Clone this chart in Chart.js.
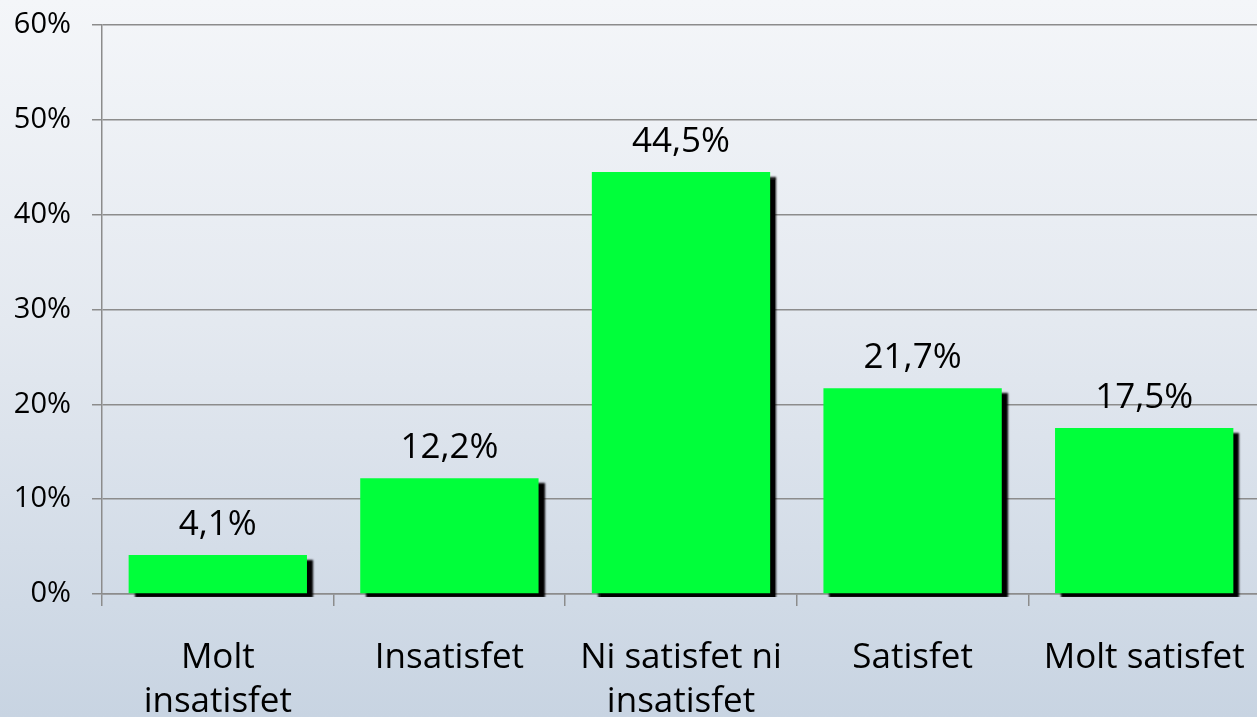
<!DOCTYPE html>
<html>
<head>
<meta charset="utf-8">
<script src="https://cdn.jsdelivr.net/npm/chart.js@4"></script>
<style>
  html, body {
    margin: 0;
    padding: 0;
    width: 1257px;
    height: 717px;
    overflow: hidden;
    background: linear-gradient(to bottom, #f4f6f9 0%, #e4e9f0 45%, #c8d4e2 100%);
  }
  #wrap {
    position: relative;
    width: 1260px;
    height: 717px;
  }
</style>
</head>
<body>
<div id="wrap"><canvas id="satChart"></canvas></div>
<script>
// Satisfaction survey results (percent of answers)
const categories = [
    ['Molt', 'insatisfet'],
    'Insatisfet',
    ['Ni satisfet ni', 'insatisfet'],
    'Satisfet',
    'Molt satisfet'
];
const percentages = [4.1, 12.2, 44.5, 21.7, 17.5];
const yTicks = [0, 10, 20, 30, 40, 50, 60];

const fmt = v => v.toFixed(1).replace('.', ',') + '%';

// Drop shadow behind the bars
const barShadow = {
    id: 'barShadow',
    beforeDatasetsDraw(chart) {
        const ctx = chart.ctx;
        ctx.save();
        ctx.shadowColor = 'rgba(0, 0, 0, 1)';
        ctx.shadowOffsetX = 6;
        ctx.shadowOffsetY = 5;
        ctx.shadowBlur = 2;
    },
    afterDatasetsDraw(chart) {
        chart.ctx.restore();
    }
};

// Value labels above each bar
const valueLabels = {
    id: 'valueLabels',
    afterDatasetsDraw(chart) {
        const ctx = chart.ctx;
        const meta = chart.getDatasetMeta(0);
        ctx.save();
        ctx.font = '35px "Open Sans"';
        ctx.fillStyle = '#000';
        ctx.textAlign = 'center';
        ctx.textBaseline = 'alphabetic';
        meta.data.forEach((bar, i) => {
            ctx.fillText(fmt(percentages[i]), bar.x, bar.y - 20);
        });
        ctx.restore();
    }
};

const ctx = document.getElementById('satChart').getContext('2d');
new Chart(ctx, {
    type: 'bar',
    data: {
        labels: categories,
        datasets: [{
            data: percentages,
            backgroundColor: '#00ff3a',
            borderWidth: 0,
            barPercentage: 0.77,
            categoryPercentage: 1,
            clip: { left: false, right: false, top: false, bottom: 3 }
        }]
    },
    options: {
        responsive: true,
        maintainAspectRatio: false,
        animation: false,
        layout: { padding: { top: 25, right: 0, bottom: 0, left: 0 } },
        plugins: {
            legend: { display: false },
            tooltip: { enabled: false }
        },
        scales: {
            x: {
                grid: {
                    offset: true,
                    drawOnChartArea: false,
                    tickLength: 12,
                    color: '#8c8c8c',
                    lineWidth: 1.5
                },
                border: { color: '#8c8c8c', width: 1.5 },
                ticks: {
                    color: '#000',
                    font: { family: 'Open Sans', size: 35, lineHeight: 1.23 },
                    padding: 31,
                    maxRotation: 0,
                    autoSkip: false
                },
                afterFit(axis) {
                    axis.height = 123;
                    axis.paddingLeft = 0;
                    axis.paddingRight = 0;
                }
            },
            y: {
                min: 0,
                max: 60,
                afterBuildTicks(axis) {
                    axis.ticks = yTicks.map(v => ({ value: v }));
                },
                grid: {
                    color: '#8c8c8c',
                    lineWidth: 1.5,
                    tickLength: 10
                },
                border: { color: '#8c8c8c', width: 1.5 },
                ticks: {
                    color: '#000',
                    font: { family: 'Open Sans', size: 29 },
                    padding: 21,
                    callback: v => v + '%'
                },
                afterFit(axis) {
                    axis.width = 102;
                    axis.paddingTop = 0;
                    axis.paddingBottom = 0;
                }
            }
        }
    },
    plugins: [barShadow, valueLabels]
});
</script>
</body>
</html>
